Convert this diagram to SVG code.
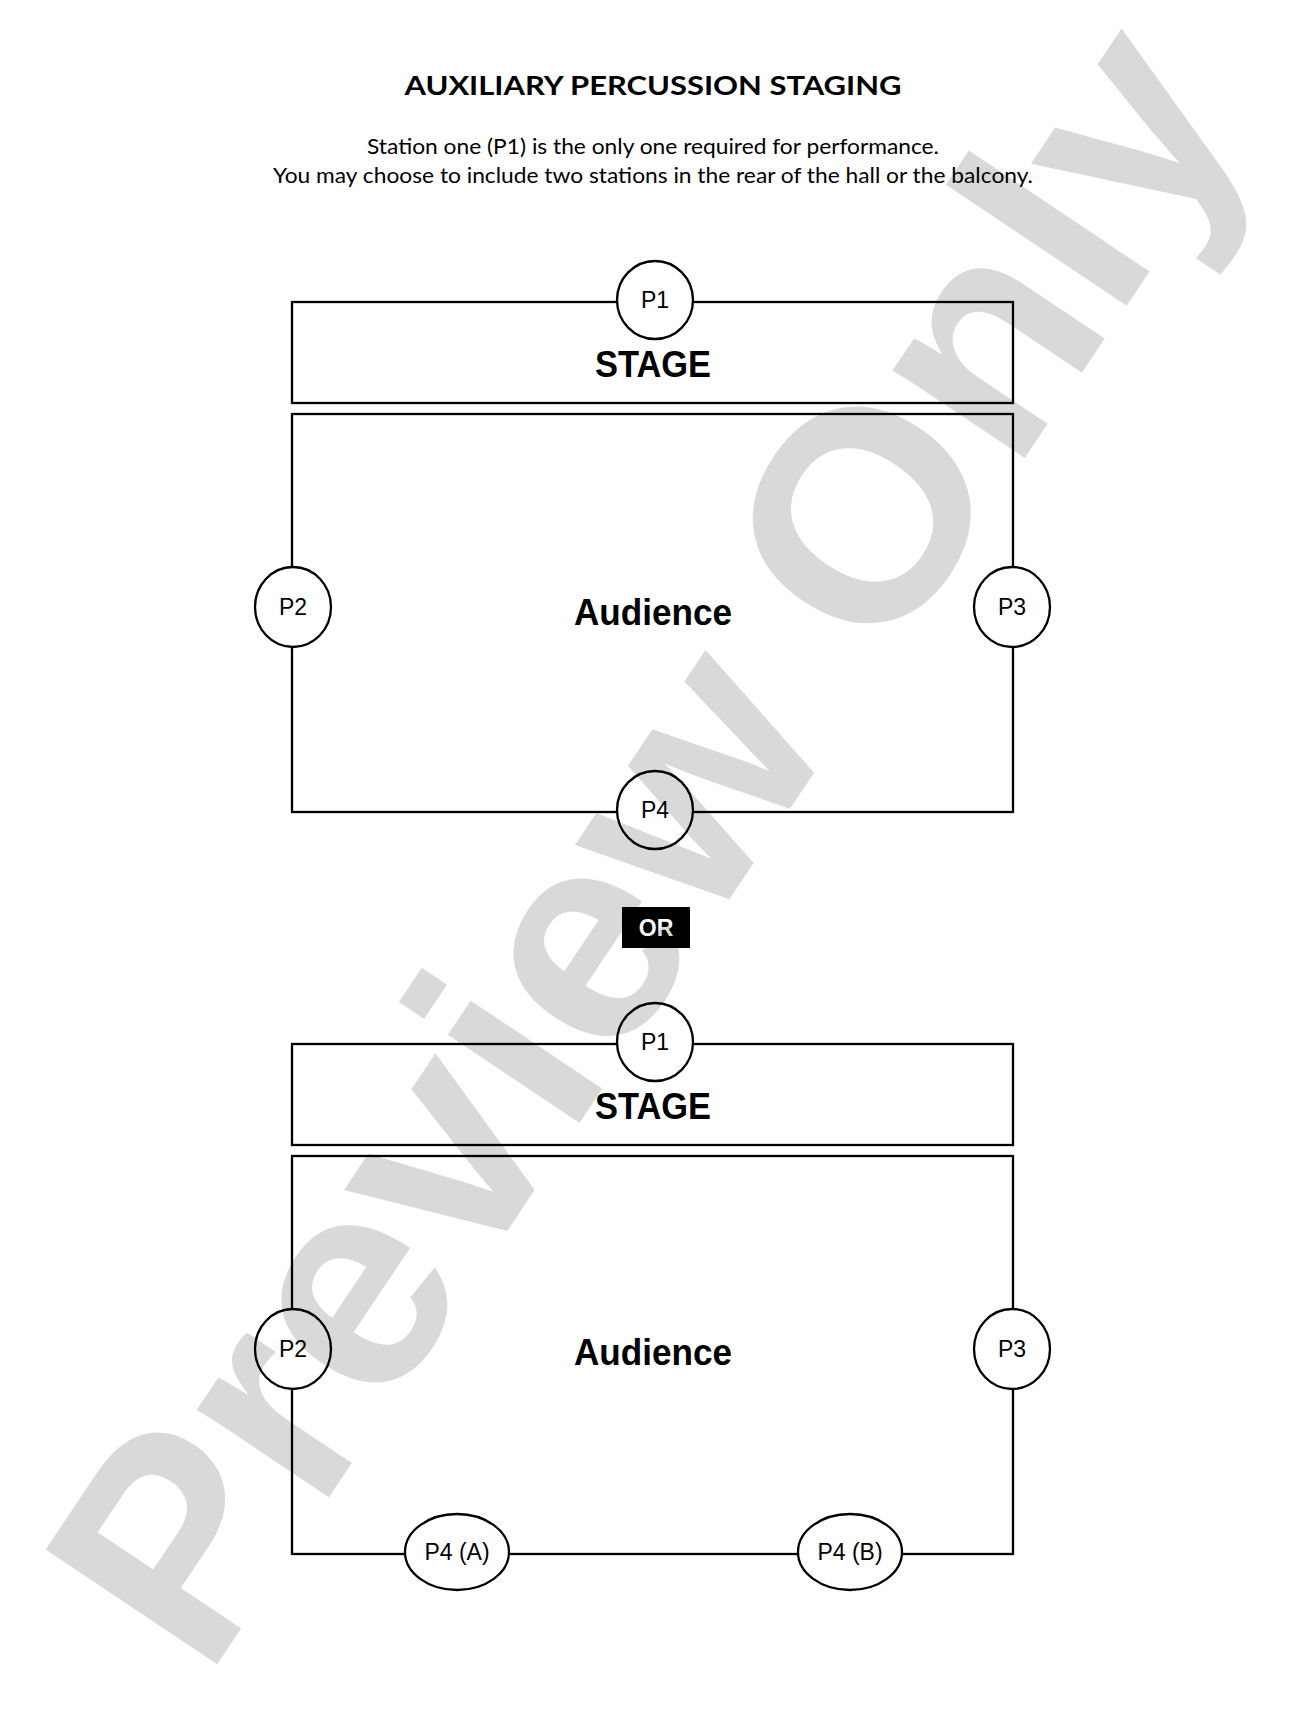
<svg xmlns="http://www.w3.org/2000/svg" width="1296" height="1728" viewBox="0 0 1296 1728">
<defs>
<style>
.frame{fill:none;stroke:#000;stroke-width:2.3}
.st{fill:#fff;stroke:#000;stroke-width:2.3}
.lbl{font-family:"Liberation Sans",Arial,sans-serif;font-size:23px;fill:#000;text-anchor:middle}
.big{font-family:"Liberation Sans",Arial,sans-serif;font-weight:bold;fill:#000;text-anchor:middle}
.gill{font-family:Lato,"Liberation Sans",sans-serif;fill:#000;text-anchor:middle}
</style>
</defs>
<rect width="1296" height="1728" fill="#fff"/>
<g id="title">
<text class="gill" x="653" y="95" font-size="27" font-weight="bold" textLength="497" lengthAdjust="spacingAndGlyphs">AUXILIARY PERCUSSION STAGING</text>
<text class="gill" x="653" y="154" font-size="21" textLength="572" lengthAdjust="spacingAndGlyphs">Station one (P1) is the only one required for performance.</text>
<text class="gill" x="653" y="183" font-size="21" textLength="760" lengthAdjust="spacingAndGlyphs">You may choose to include two stations in the rear of the hall or the balcony.</text>
</g>
<g id="connectors">
<rect class="frame" x="292" y="302" width="721" height="101"/>
<rect class="frame" x="292" y="414" width="721" height="398"/>
<rect class="frame" x="292" y="1044" width="721" height="101"/>
<rect class="frame" x="292" y="1156" width="721" height="398"/>
</g>
<g id="stage1"><text class="big" x="653" y="377" font-size="36" textLength="116" lengthAdjust="spacingAndGlyphs">STAGE</text></g>
<g id="audience1"><text class="big" x="653" y="625" font-size="36" textLength="158" lengthAdjust="spacingAndGlyphs">Audience</text></g>
<g id="p1a"><ellipse class="st" cx="655" cy="300" rx="38" ry="39"/><text class="lbl" x="655" y="308">P1</text></g>
<g id="p2a"><ellipse class="st" cx="293" cy="607" rx="38" ry="40"/><text class="lbl" x="293" y="615">P2</text></g>
<g id="p3a"><ellipse class="st" cx="1012" cy="607" rx="38" ry="40"/><text class="lbl" x="1012" y="615">P3</text></g>
<g id="p4a"><ellipse class="st" cx="655" cy="810" rx="38" ry="39"/><text class="lbl" x="655" y="818">P4</text></g>
<g id="or"><rect x="622" y="907" width="68" height="41" fill="#000"/><text class="big" x="656" y="936" font-size="23" style="fill:#fff">OR</text></g>
<g id="stage2"><text class="big" x="653" y="1119" font-size="36" textLength="116" lengthAdjust="spacingAndGlyphs">STAGE</text></g>
<g id="audience2"><text class="big" x="653" y="1365" font-size="36" textLength="158" lengthAdjust="spacingAndGlyphs">Audience</text></g>
<g id="p1b"><ellipse class="st" cx="655" cy="1042" rx="38" ry="39"/><text class="lbl" x="655" y="1050">P1</text></g>
<g id="p2b"><ellipse class="st" cx="293" cy="1349" rx="38" ry="40"/><text class="lbl" x="293" y="1357">P2</text></g>
<g id="p3b"><ellipse class="st" cx="1012" cy="1349" rx="38" ry="40"/><text class="lbl" x="1012" y="1357">P3</text></g>
<g id="p4A"><ellipse class="st" cx="457" cy="1552" rx="52" ry="38"/><text class="lbl" x="457" y="1560">P4 (A)</text></g>
<g id="p4B"><ellipse class="st" cx="850" cy="1552" rx="52" ry="38"/><text class="lbl" x="850" y="1560">P4 (B)</text></g>
<g id="watermark"><text transform="translate(206,1681) rotate(-56.2)" x="0" y="0" font-family="'Liberation Sans',Arial,sans-serif" font-weight="bold" font-size="300" fill="#000" fill-opacity="0.15">Preview Only</text></g>
</svg>
